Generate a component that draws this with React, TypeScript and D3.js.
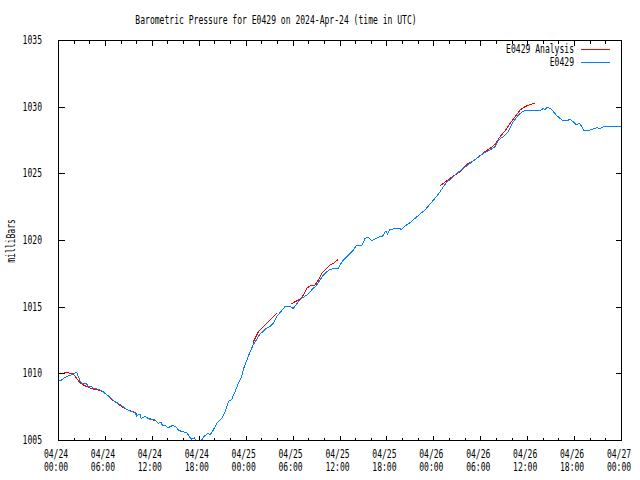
import React from "react";
import * as d3 from "d3";

const TITLE = "Barometric Pressure for E0429 on 2024-Apr-24 (time in UTC)";
const Y_LABEL = "milliBars";
const SERIES_NAMES = ["E0429 Analysis", "E0429"];
const COLORS = ["#ff0000", "#0080ff"];
const Y_TICKS = [1005, 1010, 1015, 1020, 1025, 1030, 1035];

// hours since 2024-04-24 00:00 UTC
const obsHours = [0.0, 0.47, 0.9, 1.53, 1.96, 2.3, 2.47, 2.6, 2.81, 3.03, 3.67, 3.88, 4.18, 4.51, 5.15, 5.79, 6.01, 6.65, 7.29, 7.71, 8.15, 8.79, 9.43, 9.85, 10.07, 10.49, 10.62, 11.13, 11.77, 12.41, 12.83, 13.17, 13.34, 13.68, 14.1, 14.67, 15.09, 15.39, 15.82, 16.46, 16.88, 17.1, 17.43, 17.65, 18.38, 18.71, 19.22, 19.44, 19.86, 20.3, 20.94, 21.36, 21.78, 22.22, 22.64, 23.06, 23.49, 23.7, 24.13, 24.56, 24.98, 25.41, 25.83, 26.26, 26.69, 27.11, 27.54, 27.97, 28.39, 29.03, 29.67, 30.09, 30.73, 31.17, 31.81, 32.23, 32.65, 33.09, 33.51, 33.93, 34.37, 34.79, 35.21, 35.85, 36.07, 36.49, 37.13, 37.77, 38.2, 38.84, 39.26, 39.68, 40.12, 40.32, 40.96, 41.53, 41.95, 42.11, 42.46, 43.52, 43.96, 44.38, 45.02, 45.66, 46.3, 46.94, 47.58, 48.22, 48.64, 49.28, 49.71, 50.35, 50.99, 51.84, 52.69, 53.55, 54.4, 55.25, 55.89, 56.31, 56.95, 57.59, 58.23, 58.87, 59.51, 60.37, 61.22, 61.64, 62.07, 62.29, 62.5, 62.92, 63.35, 63.78, 64.2, 64.63, 65.05, 65.48, 65.9, 66.33, 66.67, 66.98, 67.18, 68.04, 68.89, 69.32, 69.74, 71.02, 71.87, 72.0];
const obsValues = [1009.42, 1009.5, 1009.7, 1009.85, 1009.95, 1010.05, 1010.0, 1009.75, 1009.45, 1009.25, 1009.2, 1009.0, 1009.05, 1008.88, 1008.8, 1008.63, 1008.5, 1008.2, 1007.87, 1007.75, 1007.57, 1007.3, 1007.12, 1007.05, 1006.8, 1006.95, 1006.63, 1006.75, 1006.55, 1006.5, 1006.25, 1006.35, 1006.1, 1006.1, 1005.92, 1006.1, 1006.0, 1005.75, 1005.63, 1005.55, 1005.2, 1005.05, 1005.15, 1005.0, 1005.0, 1005.3, 1005.5, 1005.38, 1005.75, 1006.25, 1006.63, 1007.12, 1007.87, 1008.05, 1008.63, 1009.25, 1009.75, 1010.3, 1010.95, 1011.62, 1012.15, 1012.55, 1012.95, 1013.15, 1013.4, 1013.5, 1013.75, 1014.25, 1014.55, 1015.0, 1015.0, 1014.87, 1015.37, 1015.62, 1015.87, 1016.12, 1016.37, 1016.62, 1017.0, 1017.37, 1017.62, 1017.8, 1017.85, 1017.87, 1018.12, 1018.5, 1018.87, 1019.25, 1019.62, 1019.55, 1020.12, 1020.2, 1019.93, 1020.0, 1020.2, 1020.3, 1020.7, 1020.45, 1020.8, 1020.87, 1020.8, 1021.05, 1021.3, 1021.63, 1021.95, 1022.25, 1022.7, 1023.13, 1023.43, 1024.0, 1024.33, 1024.63, 1025.0, 1025.37, 1025.75, 1026.13, 1026.5, 1026.75, 1027.0, 1027.5, 1027.75, 1028.13, 1028.87, 1029.37, 1029.67, 1029.75, 1029.7, 1029.7, 1029.87, 1029.75, 1029.93, 1029.88, 1029.63, 1029.32, 1029.13, 1028.93, 1028.93, 1029.05, 1028.87, 1028.63, 1028.75, 1028.5, 1028.25, 1028.25, 1028.42, 1028.35, 1028.48, 1028.5, 1028.55, 1028.55];

// analysis: null separates visible segments
const anaHours = [0.81, 1.75, 1.96, 2.39, 2.81, 3.24, 3.88, 4.51, 5.15, 5.79, 6.43, 7.07, 7.71, 8.35, 8.99, 9.63, 10.1, null, 11.77, 12.41, null, 24.9, 25.2, 25.62, 26.05, 26.69, 27.33, 27.97, null, 29.8, 30.31, 30.95, 31.37, 31.81, 32.23, 32.87, 33.29, 33.73, 34.37, 34.79, 35.21, 35.85, null, 48.86, 49.49, 50.13, 50.77, 51.41, 51.84, 52.48, 53.33, 53.97, 54.61, 55.25, 55.89, 56.53, 57.17, 57.81, 58.45, 59.09, 59.73, 60.37, 61.01];
const anaValues = [1010.07, 1010.0, 1009.95, 1009.62, 1009.3, 1009.13, 1008.95, 1008.82, 1008.75, 1008.62, 1008.3, 1007.95, 1007.7, 1007.42, 1007.25, 1007.12, 1006.95, null, 1006.6, 1006.45, null, 1012.25, 1012.62, 1013.12, 1013.38, 1013.75, 1014.13, 1014.5, null, 1015.2, 1015.37, 1015.55, 1015.87, 1016.37, 1016.55, 1016.62, 1017.0, 1017.5, 1017.87, 1018.12, 1018.25, 1018.55, null, 1024.08, 1024.33, 1024.63, 1024.87, 1025.12, 1025.42, 1025.75, 1026.0, 1026.33, 1026.63, 1026.87, 1027.17, 1027.75, 1028.17, 1028.75, 1029.25, 1029.75, 1030.0, 1030.17, 1030.25];

const START = Date.UTC(2024, 3, 24, 0, 0);
const END = Date.UTC(2024, 3, 27, 0, 0);
const toDate = (h: number) => new Date(START + h * 3600 * 1000);

const W = 640, H = 480;
const L = 58, R = 621, T = 40, B = 440;
const CHW = 4.85;
const FONT = "'DejaVu Sans Mono', monospace";

function Txt(props: { x: number; y: number; s: string; anchor?: string; transform?: string }) {
  const { x, y, s, anchor = "start", transform } = props;
  return (
    <text x={x} y={y} textAnchor={anchor} transform={transform} fontFamily={FONT} fontSize={12}
      textLength={s.length * CHW} lengthAdjust="spacingAndGlyphs" fill="#000">{s}</text>
  );
}

export default function App() {
  const x = d3.scaleUtc().domain([new Date(START), new Date(END)]).range([L, R]);
  const y = d3.scaleLinear().domain([1005, 1035]).range([B, T]);

  const obs = obsHours.map((h, i) => ({ t: toDate(h), v: obsValues[i] }));
  const ana = anaHours.map((h, i) => ({ t: h === null ? null : toDate(h as number), v: anaValues[i] }));

  const line = d3.line<any>().defined((d) => d.t !== null && d.v !== null).x((d) => x(d.t)).y((d) => y(d.v));

  const minorTicks = x.ticks(d3.utcHour.every(2) as any);
  const majorTicks = x.ticks(d3.utcHour.every(6) as any);
  const fmtDate = d3.utcFormat("%m/%d");
  const fmtTime = d3.utcFormat("%H:%M");

  return (
    <svg width={W} height={H} style={{ position: "absolute", left: 0, top: 0, background: "#fff" }}>
      <rect x={0} y={0} width={W} height={H} fill="#fff" />
      <Txt x={276} y={24} s={TITLE} anchor="middle" />
      <Txt x={15} y={241} s={Y_LABEL} anchor="middle" transform="rotate(-90 15 241)" />
      <g shapeRendering="crispEdges" stroke="#000" strokeWidth={1}>
        {minorTicks.map((d, i) => {
          const major = majorTicks.some((m) => +m === +d);
          const len = major ? 5 : 3;
          const xx = Math.round(x(d)) + 0.5;
          return (
            <g key={i}>
              <line x1={xx} x2={xx} y1={B + 0.5} y2={B + 0.5 - len} />
              <line x1={xx} x2={xx} y1={T + 0.5} y2={T + 0.5 + len} />
            </g>
          );
        })}
        {Y_TICKS.map((v, i) => {
          const yy = Math.round(y(v)) + 0.5;
          return (
            <g key={i}>
              <line x1={L + 0.5} x2={L + 6.5} y1={yy} y2={yy} />
              <line x1={R + 0.5} x2={R - 5.5} y1={yy} y2={yy} />
            </g>
          );
        })}
      </g>
      {Y_TICKS.map((v, i) => (
        <Txt key={i} x={42} y={y(v) + 4} s={String(v)} anchor="end" />
      ))}
      {majorTicks.map((d, i) => (
        <g key={i}>
          <Txt x={x(d) - 2} y={458} s={fmtDate(d)} anchor="middle" />
          <Txt x={x(d) - 2} y={471} s={fmtTime(d)} anchor="middle" />
        </g>
      ))}
      <g shapeRendering="crispEdges" fill="none" strokeWidth={1}>
        <path d={line(ana as any) || ""} stroke={COLORS[0]} />
        <path d={line(obs) || ""} stroke={COLORS[1]} />
      </g>
      <Txt x={574} y={53} s={SERIES_NAMES[0]} anchor="end" />
      <Txt x={574} y={66} s={SERIES_NAMES[1]} anchor="end" />
      <g shapeRendering="crispEdges" strokeWidth={1}>
        <line x1={581} x2={610} y1={49.5} y2={49.5} stroke={COLORS[0]} />
        <line x1={581} x2={610} y1={62.5} y2={62.5} stroke={COLORS[1]} />
        <rect x={L + 0.5} y={T + 0.5} width={R - L} height={B - T} fill="none" stroke="#000" />
      </g>
    </svg>
  );
}
